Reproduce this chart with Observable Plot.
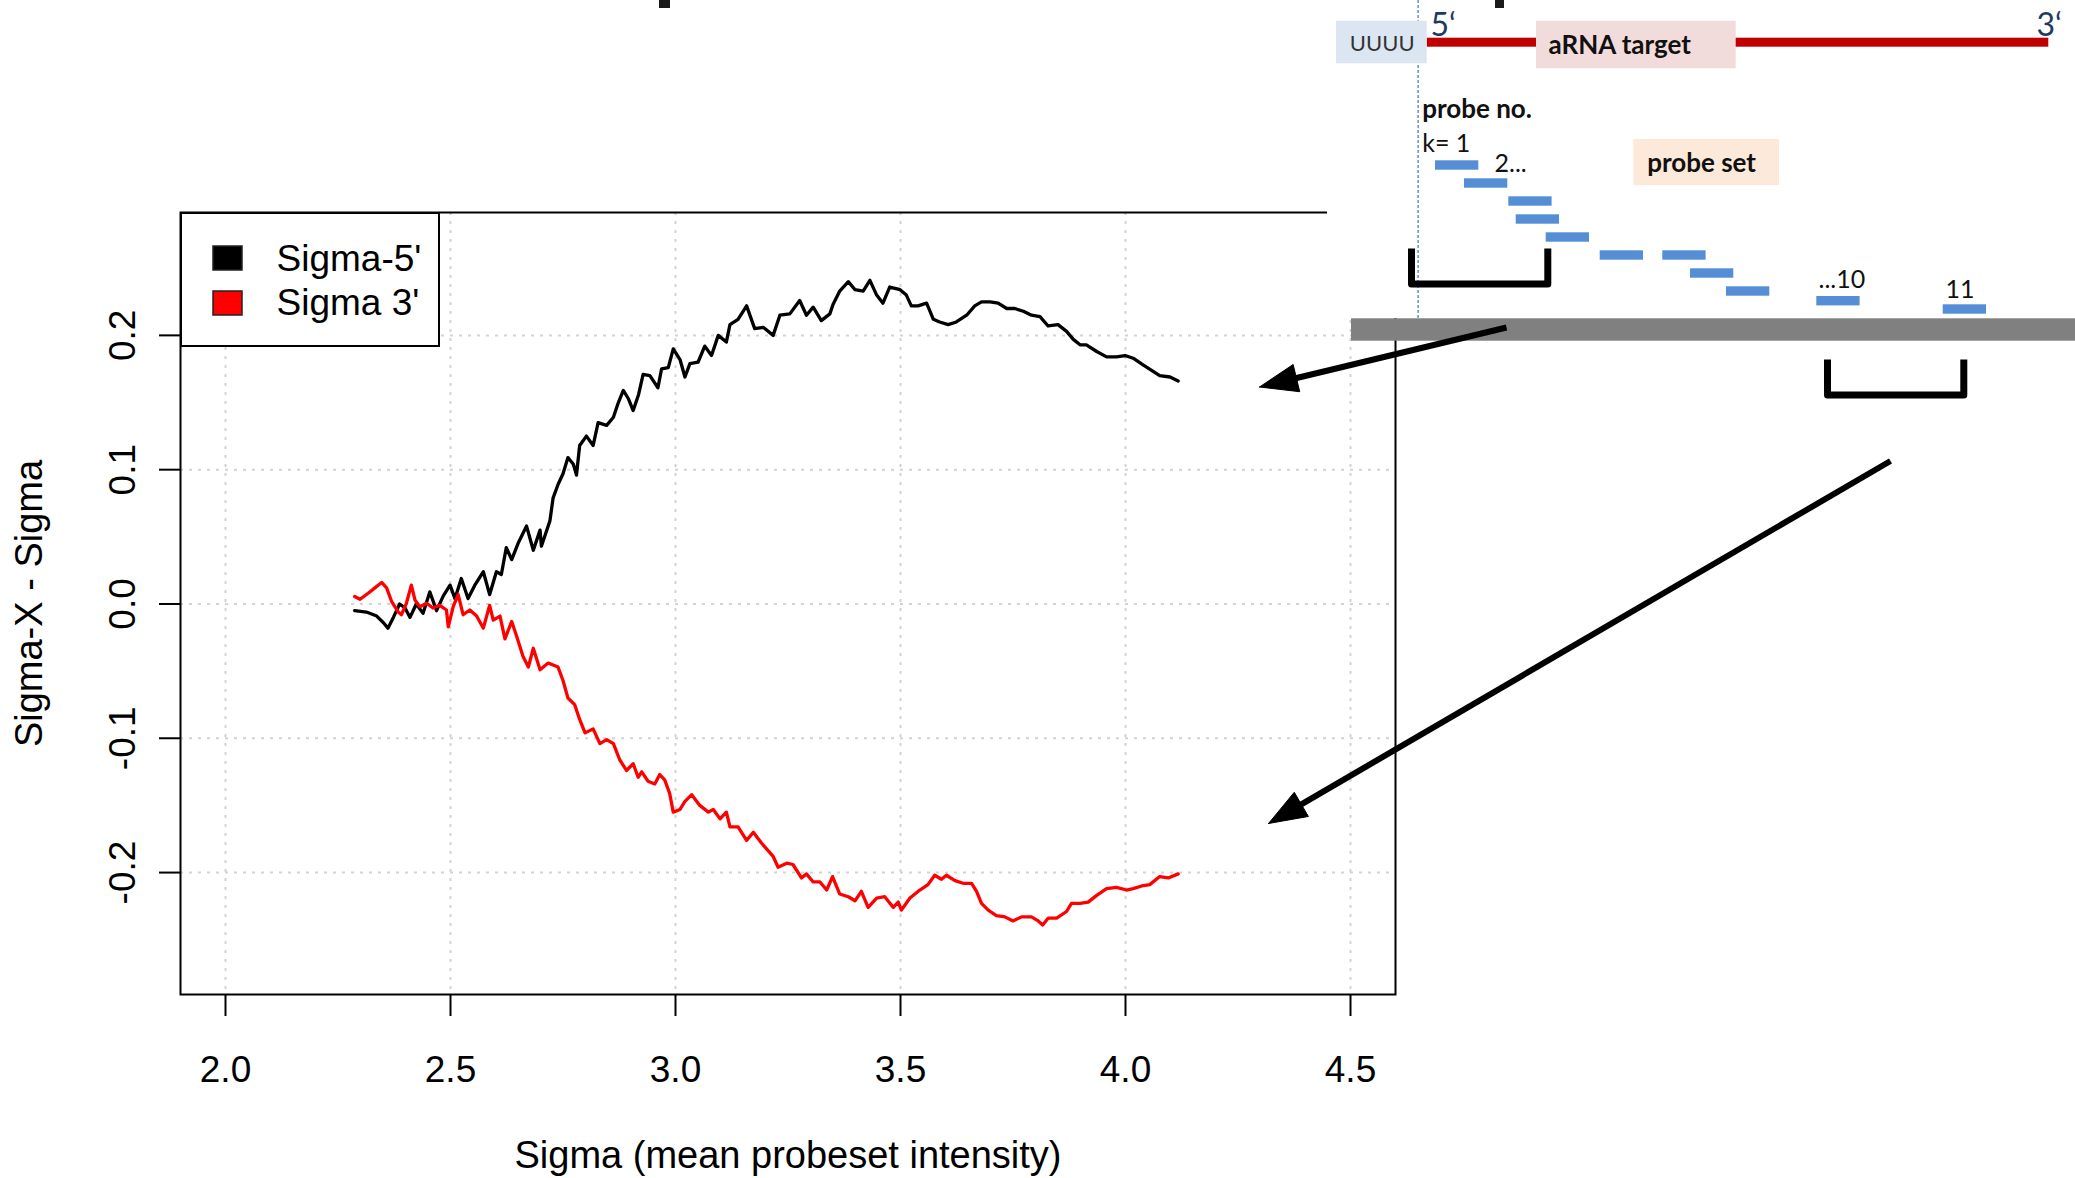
<!DOCTYPE html>
<html><head><meta charset="utf-8">
<script src="https://cdn.jsdelivr.net/npm/d3@7"></script>
<script src="https://cdn.jsdelivr.net/npm/@observablehq/plot@0.6"></script>
<style>
html,body{margin:0;padding:0;background:#fff;}
#wrap{position:relative;width:2075px;height:1178px;overflow:hidden;background:#fff;}
#wrap svg{position:absolute;left:0;top:0;}
</style></head><body><div id="wrap"></div>
<script>
// ---------- chart data ----------
const seriesNames = ["Sigma-5'", "Sigma 3'"];
const seriesColors = ["black", "red"];
const xTitle = "Sigma (mean probeset intensity)";
const yTitle = "Sigma-X - Sigma";
const xTicks = [2.0, 2.5, 3.0, 3.5, 4.0, 4.5];
const xTickLabels = ["2.0", "2.5", "3.0", "3.5", "4.0", "4.5"];
const yTicks = [-0.2, -0.1, 0.0, 0.1, 0.2];
const yTickLabels = ["-0.2", "-0.1", "0.0", "0.1", "0.2"];

const sigma5X = [2.287,2.313,2.336,2.351,2.361,2.373,2.387,2.399,2.410,2.424,2.439,2.454,2.469,2.484,2.499,2.510,2.524,2.539,2.554,2.573,2.587,2.602,2.613,2.624,2.636,2.650,2.669,2.684,2.699,2.702,2.721,2.728,2.739,2.750,2.761,2.773,2.780,2.787,2.802,2.817,2.828,2.847,2.862,2.873,2.884,2.895,2.906,2.918,2.928,2.943,2.961,2.969,2.984,2.995,3.010,3.021,3.032,3.050,3.065,3.080,3.095,3.113,3.121,3.139,3.158,3.176,3.195,3.217,3.232,3.254,3.276,3.291,3.306,3.324,3.343,3.350,3.365,3.384,3.399,3.417,3.432,3.447,3.461,3.476,3.499,3.513,3.524,3.539,3.558,3.573,3.587,3.606,3.624,3.647,3.665,3.680,3.699,3.717,3.736,3.754,3.773,3.791,3.810,3.828,3.850,3.869,3.884,3.899,3.913,3.936,3.958,3.980,3.999,4.017,4.039,4.058,4.076,4.099,4.117];
const sigma5Y = [-0.005,-0.006,-0.009,-0.014,-0.018,-0.010,0.000,-0.003,-0.010,0.000,-0.007,0.009,-0.005,0.006,0.014,0.004,0.019,0.004,0.014,0.024,0.007,0.024,0.022,0.042,0.033,0.045,0.058,0.040,0.055,0.043,0.062,0.079,0.089,0.097,0.109,0.104,0.096,0.118,0.125,0.118,0.135,0.133,0.139,0.150,0.159,0.153,0.144,0.156,0.171,0.170,0.161,0.175,0.176,0.190,0.182,0.169,0.179,0.180,0.192,0.185,0.200,0.195,0.208,0.212,0.222,0.205,0.206,0.200,0.215,0.216,0.226,0.215,0.221,0.211,0.216,0.223,0.233,0.240,0.234,0.233,0.241,0.230,0.224,0.236,0.234,0.230,0.222,0.222,0.224,0.212,0.210,0.208,0.210,0.215,0.222,0.225,0.225,0.224,0.220,0.220,0.218,0.215,0.214,0.207,0.208,0.203,0.197,0.193,0.193,0.188,0.184,0.184,0.185,0.183,0.178,0.174,0.170,0.169,0.166];

const sigma3X = [2.287,2.299,2.317,2.332,2.347,2.358,2.369,2.384,2.391,2.402,2.413,2.421,2.432,2.447,2.461,2.476,2.491,2.495,2.506,2.517,2.528,2.543,2.558,2.573,2.587,2.595,2.610,2.621,2.636,2.647,2.661,2.673,2.684,2.699,2.717,2.739,2.750,2.761,2.776,2.787,2.799,2.817,2.832,2.847,2.862,2.876,2.891,2.906,2.917,2.925,2.939,2.954,2.965,2.976,2.987,2.995,3.010,3.021,3.036,3.054,3.073,3.084,3.099,3.113,3.121,3.139,3.158,3.173,3.191,3.217,3.228,3.247,3.261,3.280,3.291,3.306,3.321,3.336,3.349,3.365,3.384,3.399,3.413,3.428,3.447,3.465,3.484,3.495,3.502,3.521,3.543,3.561,3.576,3.591,3.602,3.621,3.639,3.658,3.669,3.680,3.695,3.713,3.732,3.750,3.769,3.791,3.806,3.816,3.828,3.847,3.869,3.880,3.899,3.917,3.936,3.958,3.980,4.002,4.017,4.036,4.054,4.076,4.095,4.117];
const sigma3Y = [0.0055,0.0035,0.008,0.012,0.016,0.012,0.002,-0.006,-0.008,0.0005,0.014,0.003,-0.002,0.0005,-0.003,-0.001,-0.0045,-0.017,-0.002,0.007,-0.008,-0.0045,-0.009,-0.018,-0.001,-0.012,-0.009,-0.026,-0.013,-0.024,-0.039,-0.047,-0.033,-0.049,-0.044,-0.047,-0.057,-0.070,-0.075,-0.086,-0.096,-0.093,-0.104,-0.101,-0.104,-0.116,-0.124,-0.119,-0.129,-0.125,-0.132,-0.134,-0.127,-0.131,-0.141,-0.155,-0.153,-0.147,-0.142,-0.150,-0.155,-0.153,-0.160,-0.155,-0.166,-0.166,-0.176,-0.170,-0.178,-0.188,-0.196,-0.193,-0.194,-0.204,-0.201,-0.207,-0.207,-0.213,-0.203,-0.216,-0.218,-0.221,-0.214,-0.226,-0.219,-0.218,-0.226,-0.222,-0.228,-0.219,-0.213,-0.209,-0.202,-0.205,-0.202,-0.206,-0.208,-0.208,-0.214,-0.223,-0.228,-0.232,-0.233,-0.236,-0.233,-0.233,-0.236,-0.239,-0.234,-0.234,-0.229,-0.223,-0.223,-0.222,-0.217,-0.212,-0.211,-0.213,-0.212,-0.210,-0.209,-0.203,-0.204,-0.201];

// ---------- schematic (pasted diagram) texts ----------
const diagramLabels = ["UUUU", "aRNA target", "5\u2018", "3\u2018", "probe no.", "k= 1", "2...", "probe set", "...10", "11"];

// ---------- layout (pixel geometry of the overlaid schematic) ----------
const maskRect = [{x1: 1327, x2: 2075, y1: 0, y2: 318}];
const titleBits = [{x1: 659, x2: 670, y1: 0, y2: 8}, {x1: 1495, x2: 1504, y1: 0, y2: 8}];
const legendBox = [{x1: 181, x2: 439, y1: 213, y2: 346}];
const legendKeys = [{x1: 213, x2: 242, y1: 246, y2: 270, tx: 276, ty: 270}, {x1: 213, x2: 242, y1: 291, y2: 315, tx: 276, ty: 314}];
const redStrand = [{x1: 1426.7, x2: 2048.3, y1: 37.7, y2: 46.7}];
const uuuuBox = [{x1: 1336, x2: 1426.7, y1: 20.7, y2: 63.3}];
const arnaBox = [{x1: 1536, x2: 1735.7, y1: 20.7, y2: 68.3}];
const probeSetBox = [{x1: 1633.3, x2: 1779, y1: 139, y2: 185}];
const probeLeft = [1435, 1464, 1508.3, 1515.7, 1545.7, 1599.7, 1662.3, 1690, 1726, 1816.3, 1942.7];
const probeTop = [160.3, 178.3, 196.3, 214.3, 232.3, 250.3, 250.3, 268.3, 286.3, 296, 304.3];
const probeW = 43.3, probeH = 9.4;
const grayBar = [{x1: 1351, x2: 2075, y1: 318.3, y2: 340.7}];
const dashedGuide = [{x: 1417.6, y1: 0, y2: 318}];
const brackets = [
  [{x: 1411, y: 248}, {x: 1411, y: 283.5}, {x: 1547.3, y: 283.5}, {x: 1547.3, y: 248}],
  [{x: 1827, y: 359}, {x: 1827, y: 394.5}, {x: 1963.3, y: 394.5}, {x: 1963.3, y: 359}]
];
const arrows = [{x1: 1506, y1: 327, x2: 1259, y2: 386.5}, {x1: 1890, y1: 460.5, x2: 1268, y2: 823}];
const labelPos = [
  {x: 1381.7, y: 50, anchor: "middle"}, {x: 1548, y: 53.5, anchor: "start"},
  {x: 1430, y: 35, anchor: "start"}, {x: 2036, y: 35, anchor: "start"},
  {x: 1421.7, y: 117, anchor: "start"}, {x: 1421.7, y: 151, anchor: "start"},
  {x: 1494, y: 171, anchor: "start"}, {x: 1646.7, y: 171, anchor: "start"},
  {x: 1818, y: 287.5, anchor: "start"}, {x: 1945, y: 297.5, anchor: "start"}
];

// ---------- build ----------
const axisFont = "'Liberation Sans', Arial, Helvetica, sans-serif";
const s5 = sigma5X.map((x, i) => ({x, y: sigma5Y[i], s: seriesNames[0]}));
const s3 = sigma3X.map((x, i) => ({x, y: sigma3Y[i], s: seriesNames[1]}));

const main = Plot.plot({
  width: 2075, height: 1178,
  marginLeft: 180, marginRight: 680, marginTop: 212, marginBottom: 184,
  x: {domain: [1.9, 4.6], axis: null, label: null},
  y: {domain: [-0.2908, 0.2915], axis: null, label: null},
  style: {fontFamily: axisFont, background: "white", overflow: "visible"},
  marks: [
    Plot.ruleX(xTicks, {stroke: "#d3d3d3", strokeWidth: 2, strokeDasharray: "3,6"}),
    Plot.ruleY(yTicks, {stroke: "#d3d3d3", strokeWidth: 2, strokeDasharray: "3,6"}),
    Plot.line(s5, {x: "x", y: "y", stroke: seriesColors[0], strokeWidth: 3.3}),
    Plot.line(s3, {x: "x", y: "y", stroke: seriesColors[1], strokeWidth: 3.3}),
    Plot.frame({stroke: "black", strokeWidth: 2}),
    Plot.axisX(xTicks, {label: null, tickSize: 22, tickPadding: 65, lineAnchor: "bottom", fontSize: 37, strokeWidth: 2,
      tickFormat: d => xTickLabels[xTicks.indexOf(d)], fill: "black"}),
    Plot.axisY(yTicks, {label: null, tickSize: 21, tickPadding: 25, tickRotate: -90, textAnchor: "middle", lineAnchor: "bottom",
      fontSize: 37, strokeWidth: 2, tickFormat: d => yTickLabels[yTicks.indexOf(d)], fill: "black"}),
    Plot.text([xTitle], {text: d => d, frameAnchor: "bottom", dy: 173, lineAnchor: "bottom", textAnchor: "middle", fontSize: 38, fill: "black"}),
    Plot.text([yTitle], {text: d => d, frameAnchor: "left", dx: -139, rotate: -90, lineAnchor: "bottom", textAnchor: "middle", fontSize: 38, fill: "black"})
  ]
});

const probes = probeLeft.map((x, i) => ({x1: x, x2: x + probeW, y1: probeTop[i], y2: probeTop[i] + probeH}));
const bracketPts = brackets.flatMap((b, k) => b.map(p => ({...p, k})));
const headLen = 38, headHalf = 14;
const shafts = [], heads = [];
arrows.forEach((a, k) => {
  const dx = a.x2 - a.x1, dy = a.y2 - a.y1, L = Math.hypot(dx, dy);
  const ux = dx / L, uy = dy / L;
  const bx = a.x2 - ux * headLen, by = a.y2 - uy * headLen;
  shafts.push({x1: a.x1, y1: a.y1, x2: bx + ux * 4, y2: by + uy * 4});
  heads.push({k, x: a.x2, y: a.y2}, {k, x: bx - uy * headHalf, y: by + ux * headHalf},
             {k, x: bx + uy * headHalf, y: by - ux * headHalf}, {k, x: a.x2, y: a.y2});
});
const lab = diagramLabels.map((t, i) => ({t, ...labelPos[i]}));
const legendItems = legendKeys.map((k, i) => ({...k, name: seriesNames[i], color: seriesColors[i]}));
const rectOpts = {x1: "x1", x2: "x2", y1: "y1", y2: "y2"};
const txt = (rows, o) => Plot.text(rows, {x: "x", y: "y", text: "t", lineAnchor: "bottom", textAnchor: o.anchor || "start",
  fontFamily: "Lato, 'Open Sans', sans-serif", ...o});

const overlay = Plot.plot({
  width: 2075, height: 1178, margin: 0,
  x: {domain: [0, 2075], range: [0, 2075], axis: null, label: null},
  y: {domain: [0, 1178], range: [0, 1178], axis: null, label: null},
  style: {background: "transparent", overflow: "visible"},
  marks: [
    Plot.rect(maskRect, {...rectOpts, fill: "white"}),
    Plot.rect(titleBits, {...rectOpts, fill: "#1a1a1a"}),
    // legend
    Plot.rect(legendBox, {...rectOpts, fill: "white", stroke: "black", strokeWidth: 2}),
    Plot.rect(legendItems, {...rectOpts, fill: "color", stroke: "#222", strokeWidth: 1.5}),
    Plot.text(legendItems, {x: "tx", y: "ty", text: "name", textAnchor: "start", lineAnchor: "bottom", fontSize: 37, fontFamily: axisFont, fill: "black"}),
    // schematic
    Plot.ruleX(dashedGuide, {x: "x", y1: "y1", y2: "y2", stroke: "#4472c4", strokeWidth: 1.2, strokeDasharray: "3,2"}),
    Plot.rect(redStrand, {...rectOpts, fill: "#c00000"}),
    Plot.rect(uuuuBox, {...rectOpts, fill: "#dce6f2"}),
    Plot.rect(arnaBox, {...rectOpts, fill: "#f2dcdb"}),
    Plot.rect(probeSetBox, {...rectOpts, fill: "#fde9d9"}),
    Plot.rect(probes, {...rectOpts, fill: "#558ed5"}),
    Plot.rect(grayBar, {...rectOpts, fill: "#808080"}),
    Plot.line(bracketPts, {x: "x", y: "y", z: "k", stroke: "black", strokeWidth: 7, strokeLinecap: "butt", strokeLinejoin: "round"}),
    Plot.link(shafts, {x1: "x1", y1: "y1", x2: "x2", y2: "y2", stroke: "black", strokeWidth: 6, strokeLinecap: "butt"}),
    Plot.line(heads, {x: "x", y: "y", z: "k", fill: "black", stroke: "black", strokeWidth: 1}),
    txt([lab[0]], {anchor: "middle", fontSize: 22, fill: "#333", letterSpacing: "1px"}),
    txt([lab[1]], {fontSize: 26, fontWeight: "bold", fill: "#111"}),
    txt([lab[2], lab[3]], {fontSize: 32, fill: "#1f3a60"}),
    txt([lab[4]], {fontSize: 26, fontWeight: "bold", fill: "#111"}),
    txt([lab[5], lab[6]], {fontSize: 25, fill: "#111"}),
    txt([lab[7]], {fontSize: 26, fontWeight: "bold", fill: "#111"}),
    txt([lab[8], lab[9]], {fontSize: 25, fill: "#111"})
  ]
});

const wrap = document.getElementById("wrap");
wrap.appendChild(main);
wrap.appendChild(overlay);
</script>
</body></html>
